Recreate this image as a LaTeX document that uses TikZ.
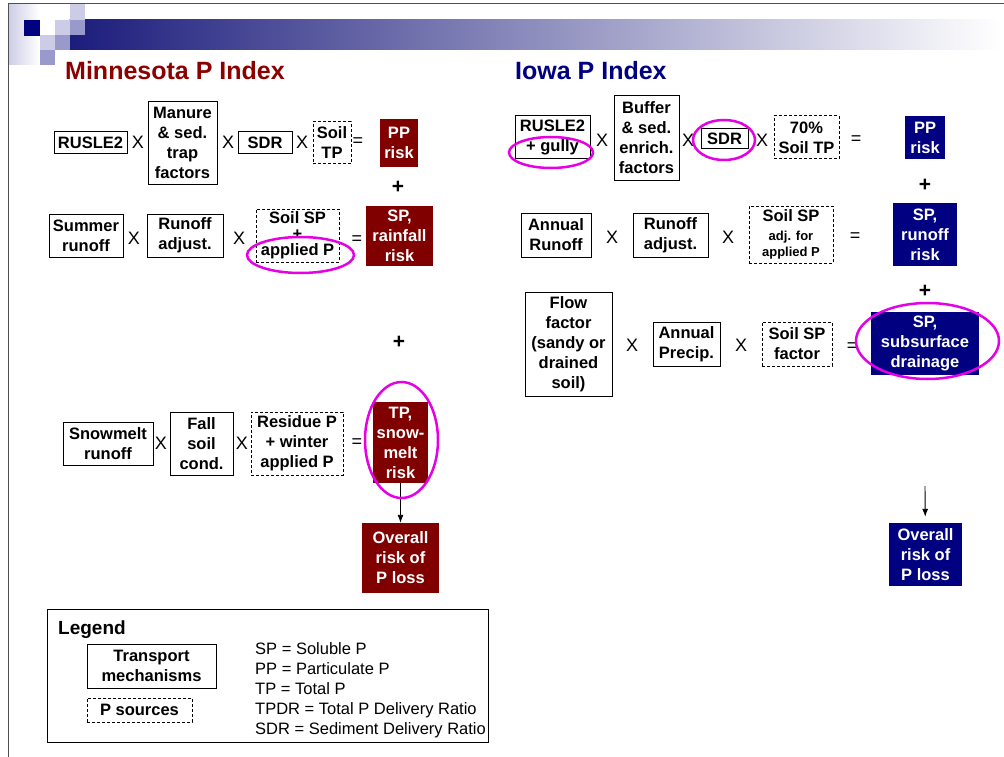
\documentclass[tikz,border=0pt]{standalone}
\usepackage{fontspec}
\setmainfont{Liberation Sans}
\usetikzlibrary{shapes.geometric,arrows.meta}
\definecolor{mnred}{RGB}{128,0,0}
\definecolor{mntitle}{RGB}{140,0,0}
\definecolor{ianavy}{RGB}{0,0,128}
\definecolor{ringpink}{RGB}{230,0,230}
\definecolor{pixlight}{RGB}{204,204,230}
\definecolor{pixmid}{RGB}{153,153,204}
\definecolor{barnavy}{RGB}{28,28,124}
\definecolor{barmid}{RGB}{180,180,198}
\definecolor{framegray}{RGB}{80,80,80}

\begin{document}
\begin{tikzpicture}[x=1pt, y=-1pt,
  boxtext/.style={font=\fontsize{16.5}{20}\selectfont\bfseries, align=center, inner sep=2pt},
  tbox/.style={boxtext, draw, line width=1pt, fill=white},
  sbox/.style={boxtext, draw, line width=1pt, dash pattern=on 3pt off 2pt},
  mnrisk/.style={boxtext, fill=mnred, text=white},
  iarisk/.style={boxtext, fill=ianavy, text=white},
  op/.style={font=\fontsize{18}{20}\selectfont, inner sep=0pt},
  plus/.style={font=\fontsize{21}{24}\selectfont\bfseries, inner sep=0pt},
  hilite/.style={ellipse, draw=ringpink, line width=2.5pt, inner sep=0pt},
  drop/.style={-{Latex[length=8pt,width=6pt]}, line width=0.9pt}]
\useasboundingbox (0,0) rectangle (1004,757);

% slide frame and pixel header
\shade[left color=pixlight, right color=white] (8,4) rectangle (39.5,65);
\shade[left color=barnavy, middle color=barmid, right color=white] (69.5,20) rectangle (1000,50);
\fill[ianavy] (24,20) rectangle (39.5,36);
\fill[pixlight] (69.5,4) rectangle (85,20);
\fill[pixlight] (54.5,20) rectangle (69.5,35);
\fill[pixmid] (69.5,20) rectangle (85,35);
\fill[pixlight] (39.5,35) rectangle (54.5,50);
\fill[pixmid] (54.5,35) rectangle (69.5,50);
\fill[pixmid] (39.5,50) rectangle (54.5,65);
\draw[framegray, line width=1pt] (1004,4) -- (8,4) -- (8,757);

\node (mnhead) at (65,71) [anchor=west, inner sep=0pt, text=mntitle, font=\fontsize{25}{30}\selectfont\bfseries] {Minnesota P Index};
\node (iahead) at (515,71) [anchor=west, inner sep=0pt, text=ianavy, font=\fontsize{25}{30}\selectfont\bfseries] {Iowa P Index};

% Minnesota
\node (rusle) at (90.5,143) [tbox, minimum width=73pt, minimum height=22pt] {RUSLE2};
\node (mult1) at (138,142) [op] {X};
\node (manure) at (182.5,143) [tbox, minimum width=69pt, minimum height=82pt] {Manure\\\& sed.\\trap\\factors};
\node (mult2) at (228,142) [op] {X};
\node (sdr) at (265,143) [tbox, minimum width=54pt, minimum height=22pt] {SDR};
\node (mult3) at (302,142) [op] {X};
\node (soiltp) at (332,143) [sbox, minimum width=38pt, minimum height=42pt] {Soil\\TP};
\node (eq1) at (358,142) [op] {=};
\node (pprisk) at (399,143) [mnrisk, minimum width=38pt, minimum height=48pt] {PP\\risk};
\node (plus1) at (398,187) [plus] {+};

\node (summer) at (86,235.5) [tbox, minimum width=74pt, minimum height=43pt] {Summer\\runoff};
\node (mult4) at (134,238) [op] {X};
\node (runadj) at (185,235.5) [tbox, minimum width=76pt, minimum height=43pt] {Runoff\\adjust.};
\node (mult5) at (239,238) [op] {X};
\node (soilsp) at (297.5,235.5) [sbox, minimum width=83pt, minimum height=53pt, font=\fontsize{16.5}{16}\selectfont\bfseries] {Soil SP\\+\\applied P};
\node (eq2) at (357,240) [op] {=};
\node (rainrisk) at (399.5,236) [mnrisk, minimum width=67pt, minimum height=60pt] {SP,\\rainfall\\risk};
\node (plus2) at (399,342) [plus] {+};

\node (snow) at (108,443.5) [tbox, minimum width=90pt, minimum height=43pt] {Snowmelt\\runoff};
\node (mult6) at (161,443) [op] {X};
\node (fall) at (201.5,443.5) [tbox, minimum width=63pt, minimum height=63pt] {Fall\\soil\\cond.};
\node (mult7) at (242,443) [op] {X};
\node (residue) at (297,443.5) [sbox, minimum width=92pt, minimum height=63pt] {Residue P\\+ winter\\applied P};
\node (eq3) at (357,443) [op] {=};
\node (snowrisk) at (400.5,442.5) [mnrisk, minimum width=55pt, minimum height=81pt] {TP,\\snow-\\melt\\risk};
\node (mnoverall) at (400.5,558) [mnrisk, minimum width=77pt, minimum height=70pt] {Overall\\risk of\\P loss};

\draw[drop] (snowrisk) -- (mnoverall);

\node (ringapp) at (300.5,255) [hilite, minimum width=107pt, minimum height=36pt] {};
\node (ringsnow) at (401.5,440) [hilite, minimum width=73pt, minimum height=116pt] {};

% Iowa
\node (gully) at (552.5,137.5) [tbox, minimum width=75pt, minimum height=43pt] {RUSLE2\\+ gully};
\node (mult8) at (602,140) [op] {X};
\node (buffer) at (646.5,138) [tbox, minimum width=65pt, minimum height=84pt] {Buffer\\\& sed.\\enrich.\\factors};
\node (mult9) at (688,140) [op] {X};
\node (iasdr) at (724.5,139) [tbox, minimum width=47pt, minimum height=20pt] {SDR};
\node (mult10) at (762,140) [op] {X};
\node (iasoiltp) at (806.5,137.5) [sbox, minimum width=65pt, minimum height=43pt] {70\%\\Soil TP};
\node (eq4) at (856,140) [op] {=};
\node (iapprisk) at (925,137.5) [iarisk, minimum width=40pt, minimum height=43pt] {PP\\risk};
\node (plus3) at (925,185) [plus] {+};

\node (annrun) at (556,235) [tbox, minimum width=70pt, minimum height=44pt] {Annual\\Runoff};
\node (mult11) at (612,237) [op] {X};
\node (iarunadj) at (670.5,235) [tbox, minimum width=75pt, minimum height=44pt] {Runoff\\adjust.};
\node (mult12) at (728,237) [op] {X};
\node (iasoilsp) at (791,234.5) [sbox, minimum width=84pt, minimum height=57pt] {Soil SP\\[-1pt]{\fontsize{13}{16}\selectfont adj. for}\\[-4pt]{\fontsize{13}{16}\selectfont applied P}};
\node (eq5) at (855,237) [op] {=};
\node (runrisk) at (925,234.5) [iarisk, minimum width=64pt, minimum height=63pt] {SP,\\runoff\\risk};
\node (plus4) at (925,291) [plus] {+};

\node (flow) at (568.5,344) [tbox, minimum width=87pt, minimum height=104pt] {Flow\\factor\\(sandy or\\drained\\soil)};
\node (mult13) at (632,345) [op] {X};
\node (precip) at (686.5,344) [tbox, minimum width=67pt, minimum height=44pt] {Annual\\Precip.};
\node (mult14) at (741,345) [op] {X};
\node (spfactor) at (797,344) [sbox, minimum width=70pt, minimum height=44pt] {Soil SP\\factor};
\node (eq6) at (852,347) [op] {=};
\node (drainrisk) at (925,343.5) [iarisk, minimum width=108pt, minimum height=63pt] {SP,\\subsurface\\drainage};
\coordinate (iadrop) at (925,486);
\node (iaoverall) at (925.5,554.5) [iarisk, minimum width=73pt, minimum height=63pt] {Overall\\risk of\\P loss};

\draw[drop, shorten >=6pt] (iadrop) -- (iaoverall);

\node (ringgully) at (551,152.5) [hilite, minimum width=84pt, minimum height=31pt] {};
\node (ringsdr) at (724,140) [hilite, minimum width=62pt, minimum height=40pt] {};
\node (ringdrain) at (927.5,341) [hilite, minimum width=143pt, minimum height=76pt] {};

% legend
\draw[line width=1pt] (47,609) rectangle (488,742);
\node (legendhead) at (58,630) [anchor=west, inner sep=0pt, font=\fontsize{19}{22}\selectfont\bfseries] {Legend};
\node (transport) at (151.5,666) [tbox, minimum width=129pt, minimum height=44pt] {Transport\\mechanisms};
\node (psources) at (139.5,710) [sbox, minimum width=105pt, minimum height=24pt] {P sources};
\node (abbrev) at (255,642) [anchor=north west, inner sep=0pt, align=left, font=\fontsize{16.5}{20}\selectfont] {SP = Soluble P\\PP = Particulate P\\TP = Total P\\TPDR = Total P Delivery Ratio\\SDR = Sediment Delivery Ratio};
\end{tikzpicture}
\end{document}
